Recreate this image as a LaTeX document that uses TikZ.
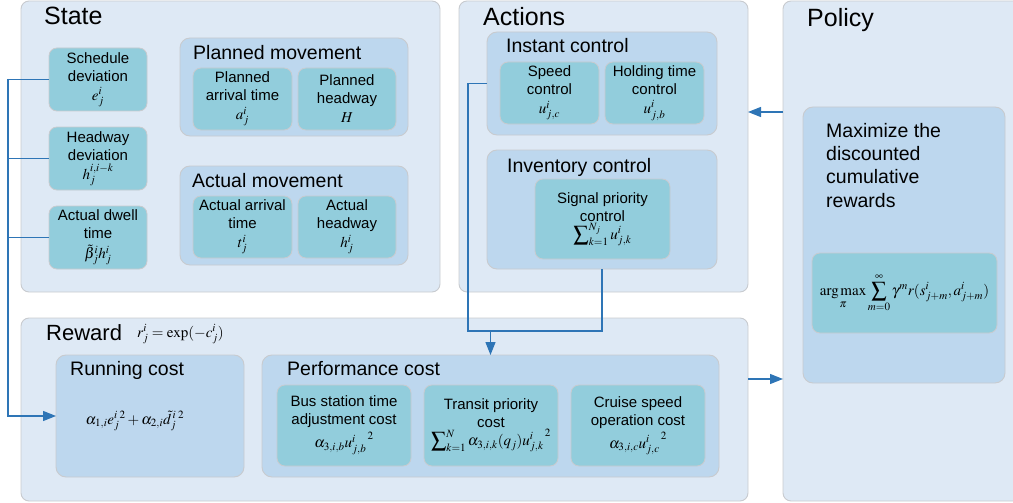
\documentclass[tikz,border=0pt]{standalone}
\usepackage{amsmath}
\usepackage{mathptmx}
\usepackage[no-math]{fontspec}
\setmainfont{Liberation Sans}
\usetikzlibrary{calc, arrows.meta}

\definecolor{panelfill}{RGB}{222,233,245}
\definecolor{groupfill}{RGB}{189,215,238}
\definecolor{itemfill}{RGB}{146,205,220}
\definecolor{edgegray}{RGB}{200,203,207}
\definecolor{linkblue}{RGB}{46,117,182}

\begin{document}
\begin{tikzpicture}[x=1pt, y=-1pt,
  panel/.style={draw=edgegray, fill=panelfill, rounded corners=8pt, line width=0.9pt,
    anchor=north west, inner sep=0pt, outer sep=0pt},
  group/.style={draw=edgegray, fill=groupfill, rounded corners=10pt, line width=0.9pt,
    anchor=north west, inner sep=0pt, outer sep=0pt},
  item/.style={draw=edgegray, fill=itemfill, rounded corners=8pt, line width=0.8pt,
    anchor=north west, inner sep=0pt, outer sep=0pt, align=center,
    font=\fontsize{15}{18}\selectfont},
  title/.style={anchor=base west, inner sep=0pt, font=\fontsize{25}{30}\selectfont},
  subtitle/.style={anchor=base west, inner sep=0pt, font=\fontsize{19.5}{23.3}\selectfont},
  flow/.style={draw=linkblue, line width=1.2pt},
  tip/.style={-{Triangle[length=13pt, width=10pt]}}]
\useasboundingbox (0,0) rectangle (1013,503);

% big panels
\node[panel, minimum width=419, minimum height=291] (state) at (21,1) {};
\node[panel, minimum width=289, minimum height=291] (actions) at (459,1) {};
\node[panel, minimum width=240, minimum height=500] (policy) at (783,1) {};
\node[panel, minimum width=727, minimum height=183] (reward) at (21,318) {};
\node[title] at (44,25) {State};
\node[title] at (483,26) {Actions};
\node[title] at (807,27) {Policy};
\node[title, font=\fontsize{22}{26}\selectfont] at (46,340) {Reward};
\node[anchor=base west, inner sep=0pt, font=\fontsize{15}{18}\selectfont] (rformula) at (137,337)
  {$r^i_j=\exp(-c^i_j)$};

% state
\node[item, minimum width=98, minimum height=63] (sched) at (49,48) {Schedule\\deviation\\[1pt]$e^i_j$};
\node[item, minimum width=98, minimum height=63] (headway) at (49,127) {Headway\\deviation\\[1pt]$h^{i,i-k}_j$};
\node[item, minimum width=98, minimum height=63] (dwell) at (49,206) {Actual dwell\\time\\[2pt]$\tilde{\beta}^i_j h^i_j$};

\node[group, minimum width=228, minimum height=98] (planned) at (180,38) {};
\node[subtitle] at (193,60) {Planned movement};
\node[item, minimum width=99, minimum height=62] (parr) at (193,68) {Planned\\arrival time\\[1pt]$a^i_j$};
\node[item, minimum width=98, minimum height=62] (phead) at (298,68) {Planned\\headway\\[1pt]$H$};

\node[group, minimum width=228, minimum height=99] (actual) at (180,166) {};
\node[subtitle] at (192,187) {Actual movement};
\node[item, minimum width=99, minimum height=62] (aarr) at (193,196) {Actual arrival\\time\\[1pt]$t^i_j$};
\node[item, minimum width=98, minimum height=62] (ahead) at (298,196) {Actual\\headway\\[1pt]$h^i_j$};

% actions
\node[group, minimum width=230, minimum height=103] (instant) at (487,32) {};
\node[subtitle] at (506,53) {Instant control};
\node[item, minimum width=99, minimum height=62] (speed) at (500,62) {Speed\\control\\[1pt]$u^i_{j,c}$};
\node[item, minimum width=99, minimum height=62] (hold) at (605,62) {Holding time\\control\\[1pt]$u^i_{j,b}$};

\node[group, minimum width=230, minimum height=119] (inventory) at (487,150) {};
\node[subtitle] at (507,172) {Inventory control};
\node[item, minimum width=135, minimum height=80] (signal) at (535,179)
  {Signal priority\\control\\$\displaystyle\sum\nolimits_{k=1}^{N_j}u^i_{j,k}$};

% policy
\node[group, minimum width=202, minimum height=276] (goal) at (803,107) {};
\node[subtitle, anchor=north west, align=left] (goaltext) at (826,123)
  {Maximize the\\discounted\\cumulative\\rewards};
\node[item, minimum width=185, minimum height=80] (argmax) at (812,253)
  {$\displaystyle\operatorname*{arg\,max}_{\pi}\sum_{m=0}^{\infty}\gamma^m r(s^i_{j+m},a^i_{j+m})$};

% reward
\node[group, minimum width=188, minimum height=122] (running) at (56,355) {};
\node[subtitle] at (70,375) {Running cost};
\node[inner sep=0pt, font=\fontsize{15}{18}\selectfont] (runformula) at (135,421)
  {$\alpha_{1,i}e^{i\;2}_j+\alpha_{2,i}\tilde{d}^{\,i\;2}_j$};

\node[group, minimum width=457, minimum height=122] (perf) at (262,355) {};
\node[subtitle] at (287,375) {Performance cost};
\node[item, minimum width=134, minimum height=81] (busst) at (277,385)
  {Bus station time\\adjustment cost\\[3pt]$\alpha_{3,i,b}{u^i_{j,b}}^{\,2}$};
\node[item, minimum width=134, minimum height=81] (transit) at (424,385)
  {Transit priority\\cost\\$\displaystyle\sum\nolimits_{k=1}^{N}\alpha_{3,i,k}(q_j){u^i_{j,k}}^{\,2}$};
\node[item, minimum width=134, minimum height=81] (cruise) at (571,385)
  {Cruise speed\\operation cost\\[3pt]$\alpha_{3,i,c}{u^i_{j,c}}^{\,2}$};

% connectors
\coordinate (spine) at (8,79);
\coordinate (merge) at (468,331);
\coordinate (pa) at (765,112);
\coordinate (rp) at (765,379);
\foreach \n in {sched,headway,dwell}
  \draw[flow] (\n.west) -- (\n.west -| spine);
\draw[flow, tip] (spine) |- (running.west);
\draw[flow] (instant.west) -| (merge) -| (inventory.south);
\draw[flow, tip] (perf.north |- merge) -- (perf.north);
\draw[flow, tip] (policy.west |- pa) -- (actions.east |- pa);
\draw[flow, tip] (reward.east |- rp) -- (policy.west |- rp);
\end{tikzpicture}
\end{document}
